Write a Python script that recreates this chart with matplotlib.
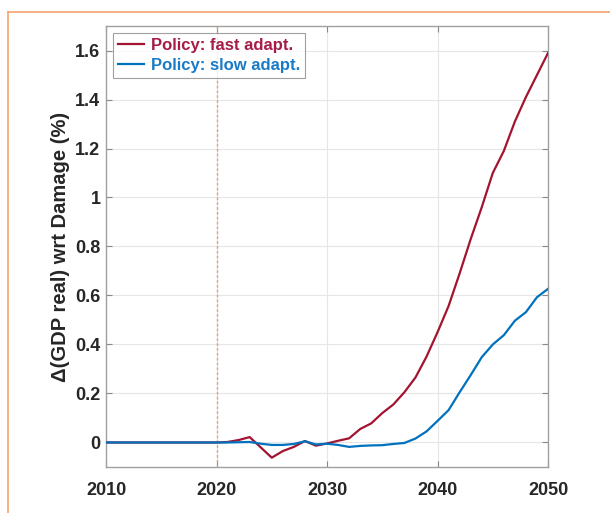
import matplotlib.pyplot as plt
import numpy as np
from matplotlib.lines import Line2D

plt.rcParams['font.family'] = ['Liberation Sans', 'DejaVu Sans']

years = np.arange(2010, 2051)
fast = [0, 0, 0, 0, 0, 0, 0, 0, 0, 0, 0, 0.002,
        0.01, 0.022, -0.02, -0.062, -0.035, -0.018, 0.006, -0.013, -0.004,
        0.007, 0.017, 0.055, 0.078, 0.12, 0.155, 0.205, 0.265, 0.35, 0.45,
        0.557, 0.69, 0.83, 0.96, 1.10, 1.19, 1.31, 1.41, 1.50, 1.59]
slow = [0, 0, 0, 0, 0, 0, 0, 0, 0, 0, 0, 0,
        0.001, 0.002, -0.005, -0.01, -0.01, -0.006, 0.005, -0.008, -0.005,
        -0.01, -0.018, -0.014, -0.012, -0.011, -0.006, -0.002, 0.016, 0.045, 0.088,
        0.132, 0.205, 0.275, 0.348, 0.40, 0.438, 0.497, 0.532, 0.593, 0.627]
xticks = [2010, 2020, 2030, 2040, 2050]
yticks = [0, 0.2, 0.4, 0.6, 0.8, 1, 1.2, 1.4, 1.6]
ytick_labels = ['0', '0.2', '0.4', '0.6', '0.8', '1', '1.2', '1.4', '1.6']

fig = plt.figure(figsize=(6.1, 5.13), dpi=100)
ax = fig.add_axes([0.1738, 0.0897, 0.7246, 0.8596])

# orange frame of the slide
fig.add_artist(Line2D([8/610, 1], [1 - 12/513, 1 - 12/513], color='#F5A56E', lw=1.2))
fig.add_artist(Line2D([8/610, 8/610], [0, 1 - 12/513], color='#F5A56E', lw=1.2))

ax.axvline(2020, color='#E0A27A', lw=1, ls=(0, (2, 1.5)), zorder=1)
ax.plot(years, fast, color='#A2142F', lw=1.6, label='Policy: fast adapt.', zorder=3)
ax.plot(years, slow, color='#0072BD', lw=1.6, label='Policy: slow adapt.', zorder=3)

ax.set_xlim(2010, 2050)
ax.set_ylim(-0.1, 1.7)
ax.set_xticks(xticks)
ax.set_yticks(yticks)
ax.set_yticklabels(ytick_labels)
ax.grid(True, color='#E6E6E6', lw=0.8)
ax.set_axisbelow(True)
ax.tick_params(direction='in', length=4, color='#888888', top=True, right=True,
               labelsize=13, labelcolor='#262626')
ax.tick_params(axis='x', pad=11)
ax.tick_params(axis='y', pad=4)
for lab in ax.get_xticklabels() + ax.get_yticklabels():
    lab.set_fontweight('bold')
for sp in ax.spines.values():
    sp.set_color('#A0A0A0')
    sp.set_linewidth(1)

ax.set_ylabel('\u0394(GDP real) wrt Damage (%)', fontsize=14.5, fontweight='bold',
              color='#262626', labelpad=4)

leg = ax.legend(loc='upper left', fontsize=12, frameon=True, fancybox=False,
                edgecolor='#888888', borderaxespad=0.4, handlelength=1.6,
                borderpad=0.3, labelspacing=0.3, handletextpad=0.4)
leg.get_frame().set_linewidth(0.8)
for txt, c in zip(leg.get_texts(), ['#A51C46', '#1A7BC6']):
    txt.set_color(c)
    txt.set_fontweight('bold')

fig.savefig('out.png', dpi=100)
